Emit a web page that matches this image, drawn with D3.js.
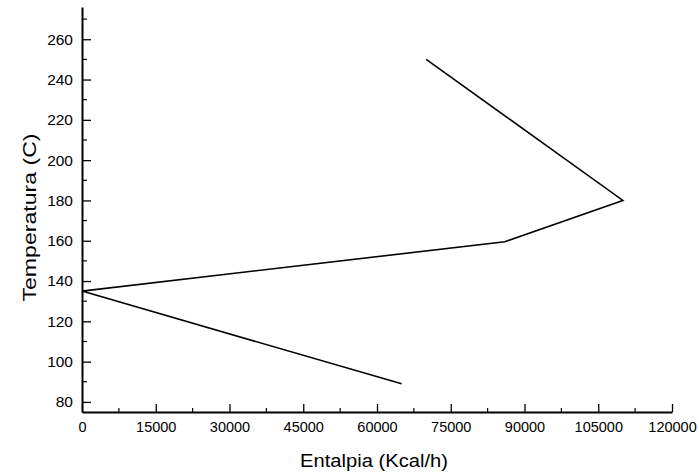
<!DOCTYPE html>
<html>
<head>
<meta charset="utf-8">
<script src="https://cdn.jsdelivr.net/npm/d3@7"></script>
<style>
  html, body { margin: 0; padding: 0; background: #fff; }
  svg { display: block; }
  text { font-family: "Liberation Sans", Arial, sans-serif; fill: #000; }
</style>
</head>
<body>
<svg id="chart" width="699" height="473"></svg>
<script>
// Data (enthalpy in Kcal/h, temperature in C)
const enthalpy = [65000, 0, 86000, 110000, 70000];
const temperature = [89, 135, 159.5, 180, 250];
const xTicks = [0, 15000, 30000, 45000, 60000, 75000, 90000, 105000, 120000];
const yTicks = [80, 100, 120, 140, 160, 180, 200, 220, 240, 260];
const xLabel = "Entalpia (Kcal/h)";
const yLabel = "Temperatura (C)";

const svg = d3.select("#chart");
const mLeft = 82, mRight = 672, mTop = 7, mBottom = 412;

const x = d3.scaleLinear().domain([0, 120000]).range([mLeft, mRight]);
const y = d3.scaleLinear().domain([75, 276]).range([mBottom, mTop]);

const xMinor = d3.range(7500, 120000, 15000);
const yMinor = d3.range(90, 276, 20);

// Minor ticks
svg.append("g").selectAll("line").data(xMinor).join("line")
  .attr("x1", d => x(d)).attr("x2", d => x(d))
  .attr("y1", mBottom).attr("y2", mBottom - 4)
  .attr("stroke", "#000").attr("stroke-width", 1.2);
svg.append("g").selectAll("line").data(yMinor).join("line")
  .attr("x1", mLeft).attr("x2", mLeft + 5)
  .attr("y1", d => y(d)).attr("y2", d => y(d))
  .attr("stroke", "#000").attr("stroke-width", 1.2);

// X axis
const xAxis = svg.append("g").attr("transform", `translate(0,${mBottom})`)
  .call(d3.axisBottom(x).tickValues(xTicks).tickSizeInner(-8).tickSizeOuter(0).tickPadding(10).tickFormat(d3.format("d")));
xAxis.select(".domain").attr("stroke-width", 1.8);
xAxis.selectAll(".tick line").attr("stroke-width", 1.3);
xAxis.selectAll("text").attr("font-size", 14.5).attr("font-family", "Liberation Sans, Arial, sans-serif");

// Y axis
const yAxis = svg.append("g").attr("transform", `translate(${mLeft},0)`)
  .call(d3.axisLeft(y).tickValues(yTicks).tickSizeInner(-9).tickSizeOuter(0).tickPadding(9).tickFormat(d3.format("d")));
yAxis.select(".domain").attr("stroke-width", 2);
yAxis.selectAll(".tick line").attr("stroke-width", 1.3);
yAxis.selectAll("text").attr("font-size", 15.5).attr("font-family", "Liberation Sans, Arial, sans-serif");

// Line
const pts = enthalpy.map((e, i) => [e, temperature[i]]);
svg.append("path")
  .datum(pts)
  .attr("fill", "none")
  .attr("stroke", "#000")
  .attr("stroke-width", 1.6)
  .attr("stroke-linejoin", "miter")
  .attr("d", d3.line().x(d => x(d[0])).y(d => y(d[1])));

// Axis titles
svg.append("text")
  .attr("x", 374).attr("y", 467)
  .attr("text-anchor", "middle").attr("font-size", 17.5)
  .attr("textLength", 148).attr("lengthAdjust", "spacingAndGlyphs")
  .text(xLabel);
svg.append("text")
  .attr("transform", "translate(36,217.5) rotate(-90)")
  .attr("text-anchor", "middle").attr("font-size", 19)
  .attr("textLength", 168).attr("lengthAdjust", "spacingAndGlyphs")
  .text(yLabel);
</script>
</body>
</html>
